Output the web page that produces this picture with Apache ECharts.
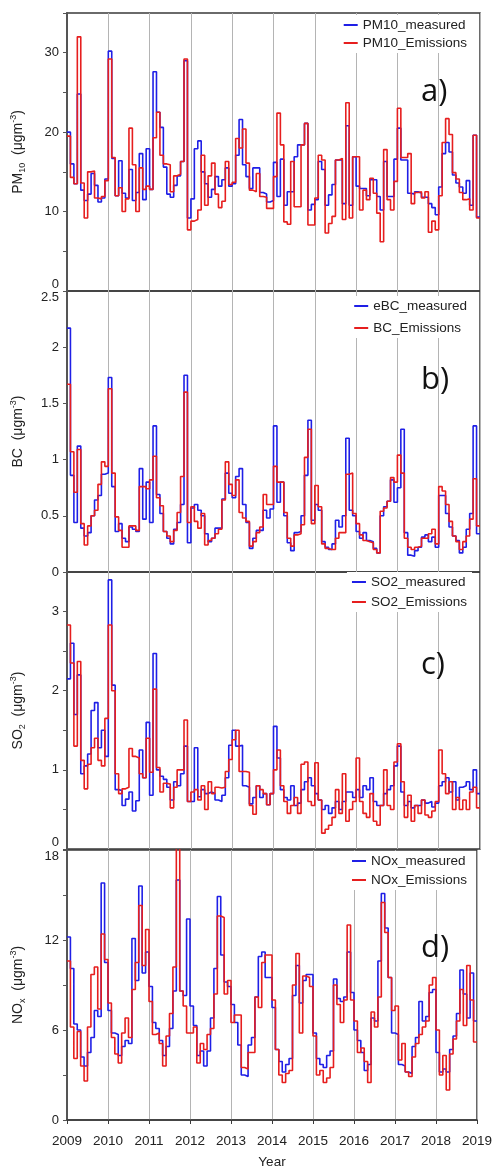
<!DOCTYPE html>
<html><head><meta charset="utf-8">
<script src="https://cdn.jsdelivr.net/npm/echarts@6/dist/echarts.min.js"></script>
<style>html,body{margin:0;padding:0;background:#fff}#c{width:495px;height:1170px}</style>
</head><body><div id="c"></div>
<script>
const startYear = 2009;
const endYear = 2019;
const panelLetters = ['a)', 'b)', 'c)', 'd)'];

const pm10Measured = [20.0,16.0,13.5,24.8,12.7,11.4,12.2,14.8,13.3,11.2,11.7,14.1,
30.2,16.7,12.0,16.4,12.3,11.7,15.3,11.4,12.4,17.3,11.5,17.9,
12.8,27.6,22.5,20.6,15.6,12.2,11.8,13.3,14.5,16.3,29.0,9.2,
11.6,17.9,18.9,15.0,13.5,11.8,12.8,14.4,13.2,14.0,15.5,13.2,
13.5,17.1,21.6,15.9,14.4,12.9,15.5,15.5,12.4,12.2,11.2,11.4,
16.2,11.9,16.6,10.8,12.5,12.5,16.9,18.4,18.4,21.1,10.2,10.9,
11.5,16.3,15.3,10.8,12.1,13.4,16.5,16.5,11.0,20.8,10.8,16.9,
13.2,12.9,12.9,12.0,14.0,14.0,11.9,10.2,16.3,11.9,11.9,16.6,
20.5,16.5,16.5,12.3,12.2,12.5,12.3,11.8,11.8,11.0,10.5,9.6,
13.1,17.3,18.7,17.5,14.6,13.6,13.1,12.3,13.9,10.8,19.6,9.3];
const pm10Emissions = [19.5,14.3,13.5,32.0,13.6,9.2,15.0,15.1,11.7,11.6,11.9,13.9,
29.2,16.8,12.0,13.0,10.0,11.6,20.5,15.9,10.0,15.5,12.8,13.2,
12.8,19.3,22.5,17.1,16.0,15.9,12.5,14.5,14.7,16.3,29.2,7.7,
8.8,9.0,10.2,17.1,10.8,14.5,16.1,12.2,10.5,11.3,16.3,13.4,
13.7,19.2,18.0,20.4,16.1,12.7,12.5,14.8,11.9,11.8,10.4,10.4,
14.4,22.4,18.4,8.7,8.4,16.3,10.6,10.6,18.4,21.1,8.3,8.3,
11.7,17.1,16.5,7.3,8.5,9.4,16.5,16.7,9.0,23.7,9.2,16.9,
16.9,10.2,12.7,11.5,14.2,12.3,9.8,6.2,17.8,11.5,10.2,13.8,
23.0,16.8,16.8,17.3,11.0,12.4,12.5,11.7,12.5,7.4,8.8,7.7,
12.0,18.7,21.7,19.7,14.9,14.1,12.4,11.5,11.6,10.2,19.6,9.2];

const ebcMeasured = [2.17,0.86,0.44,1.12,0.39,0.32,0.35,0.50,0.64,0.68,0.87,0.88,
1.73,0.76,0.36,0.43,0.30,0.27,0.40,0.38,0.36,0.92,0.47,0.80,
0.44,1.30,0.69,0.52,0.36,0.30,0.25,0.38,0.44,0.60,1.75,0.26,
0.57,0.60,0.55,0.50,0.34,0.27,0.30,0.39,0.39,0.65,0.88,0.70,
0.66,0.85,0.92,0.60,0.44,0.21,0.30,0.37,0.37,0.55,0.48,0.56,
1.30,0.62,0.80,0.50,0.26,0.19,0.35,0.36,0.50,0.86,1.35,0.46,
0.60,0.55,0.27,0.22,0.20,0.25,0.46,0.40,0.50,1.19,0.55,0.50,
0.36,0.30,0.35,0.28,0.27,0.21,0.17,0.50,0.58,0.63,0.82,0.62,
0.75,1.27,0.35,0.15,0.14,0.19,0.22,0.31,0.33,0.27,0.31,0.22,
0.68,0.68,0.52,0.40,0.32,0.28,0.17,0.22,0.38,0.52,1.30,0.34];
const bcEmissions = [1.67,1.07,0.71,1.09,0.43,0.24,0.41,0.50,0.55,0.78,0.98,0.94,
1.63,0.88,0.49,0.37,0.22,0.22,0.41,0.41,0.37,0.76,0.76,0.74,
0.82,1.03,0.66,0.59,0.36,0.32,0.27,0.37,0.53,0.85,1.60,0.44,
0.58,0.45,0.39,0.52,0.24,0.28,0.30,0.34,0.38,0.64,0.98,0.78,
0.68,0.82,0.53,0.48,0.45,0.23,0.27,0.35,0.40,0.69,0.60,0.60,
0.94,0.80,0.80,0.53,0.30,0.23,0.33,0.34,0.42,1.02,1.27,0.43,
0.77,0.58,0.25,0.21,0.20,0.20,0.30,0.35,0.35,0.87,0.88,0.52,
0.43,0.33,0.28,0.27,0.26,0.20,0.17,0.54,0.57,0.63,0.84,0.80,
1.04,0.88,0.30,0.22,0.20,0.22,0.23,0.30,0.30,0.34,0.38,0.25,
0.76,0.72,0.60,0.45,0.32,0.27,0.20,0.27,0.32,0.47,0.83,0.41];

const so2Measured = [2.15,2.60,1.70,2.20,0.95,1.05,1.20,1.75,1.85,1.28,1.50,1.17,
3.40,2.07,0.75,0.74,0.55,0.63,0.72,0.48,0.61,1.25,0.90,1.60,
0.68,2.47,1.00,0.92,0.88,0.78,0.62,0.85,0.80,0.95,1.30,0.60,
0.60,1.28,0.66,0.75,0.70,0.72,0.70,0.62,0.60,0.68,0.90,1.31,
1.50,1.30,1.31,0.80,0.78,0.57,0.65,0.80,0.65,0.70,0.56,0.70,
1.55,1.15,0.75,0.65,0.62,0.80,0.55,0.58,0.75,0.85,0.90,0.80,
0.70,0.62,0.50,0.55,0.45,0.52,0.60,0.50,0.60,0.72,0.72,0.65,
0.75,0.65,0.80,0.75,0.90,0.60,0.55,0.55,0.70,0.75,0.80,1.05,
1.30,0.72,0.55,0.60,0.52,0.55,0.55,0.62,0.58,0.60,0.53,0.58,
0.80,0.85,0.90,0.72,0.85,0.62,0.78,0.80,0.85,0.75,1.00,0.70];
const so2Emissions = [2.83,2.35,1.30,2.37,1.12,0.76,1.07,1.28,1.40,1.12,1.05,1.65,
2.83,2.00,0.95,0.70,0.76,0.78,1.27,1.17,1.15,0.95,0.90,1.40,
0.97,2.02,1.03,0.72,0.83,0.82,0.52,0.78,1.00,1.00,1.63,0.60,
0.72,0.75,0.62,0.80,0.50,0.85,0.70,0.78,0.77,0.78,0.98,1.13,
1.38,1.50,0.98,0.98,0.97,0.55,0.44,0.80,0.75,0.70,0.56,0.70,
1.00,1.25,0.80,0.60,0.45,0.55,0.65,0.45,1.07,1.10,0.60,0.55,
1.09,0.62,0.20,0.25,0.30,0.40,0.75,0.45,0.95,0.35,0.50,0.60,
1.15,0.60,0.45,0.40,0.70,0.35,0.30,0.55,1.00,0.55,0.50,1.10,
1.33,0.85,0.40,0.68,0.35,0.55,0.45,0.62,0.43,0.40,0.48,0.60,
1.25,0.95,0.70,0.85,0.50,0.65,0.50,0.62,0.50,0.72,0.78,0.52];

const noxMeasured = [12.2,10.1,6.4,6.0,4.2,3.6,4.5,5.5,7.3,6.9,15.8,10.5,
7.3,5.8,5.7,4.3,4.9,5.3,5.1,12.1,9.3,15.6,9.8,11.2,
8.9,6.5,6.1,5.3,4.3,4.9,6.1,8.6,16.0,8.6,8.3,13.4,
7.6,6.3,4.3,4.6,3.6,4.6,6.8,10.1,14.9,11.0,9.2,8.9,
7.7,6.5,5.0,3.0,2.9,5.0,5.5,8.2,10.9,11.2,9.5,9.5,
7.5,4.7,3.9,3.2,3.7,4.1,8.3,10.3,7.8,9.3,9.7,9.7,
5.8,4.1,3.7,3.5,4.3,4.6,9.4,8.1,7.9,8.2,11.2,8.5,
6.0,5.3,4.5,3.3,3.7,6.8,6.6,10.6,15.1,12.8,9.5,5.8,
5.7,3.7,3.6,3.2,3.1,4.9,5.5,7.9,6.6,6.9,8.5,8.7,
4.5,3.2,3.4,3.2,4.7,5.6,7.1,10.0,8.4,6.8,9.8,6.6];
const noxEmissions = [10.6,6.2,4.1,5.9,3.6,2.6,6.2,9.7,10.2,7.4,12.4,10.7,
7.8,5.5,4.4,3.8,5.8,6.8,5.5,8.7,10.5,14.3,10.3,12.7,
7.9,5.7,5.8,5.1,3.6,5.6,7.1,10.2,18.3,8.6,7.6,5.8,
5.8,6.2,3.8,5.1,4.7,5.7,6.1,8.4,13.6,13.5,8.4,9.3,
6.5,7.0,7.0,3.5,3.4,4.5,4.5,8.2,7.5,10.5,11.0,11.0,
8.0,4.7,3.0,2.5,3.1,3.3,9.0,11.1,5.8,9.6,9.5,8.9,
5.6,3.0,3.3,2.5,2.8,3.5,9.0,7.7,6.5,8.0,13.0,8.0,
6.6,4.5,4.8,3.9,2.5,7.2,6.2,8.2,14.5,12.5,9.5,7.3,
7.6,4.0,5.1,3.2,2.9,4.2,5.1,5.7,6.2,6.6,9.0,9.5,
6.0,3.0,4.3,2.0,4.4,5.4,6.6,8.7,6.3,10.3,8.0,5.2];

const panels = [
  {meas: pm10Measured, emis: pm10Emissions, measName: 'PM10_measured', emisName: 'PM10_Emissions',
   yMax: 35, yStep: 5, labelEvery: 10, title: '{n|PM}{sub|10}{n|  (μgm}{sup|-3}{n|)}'},
  {meas: ebcMeasured, emis: bcEmissions, measName: 'eBC_measured', emisName: 'BC_Emissions',
   yMax: 2.5, yStep: 0.5, labelEvery: 0.5, title: '{n|BC  (μgm}{sup|-3}{n|)}'},
  {meas: so2Measured, emis: so2Emissions, measName: 'SO2_measured', emisName: 'SO2_Emissions',
   yMax: 3.5, yStep: 0.5, labelEvery: 1, title: '{n|SO}{sub|2}{n|  (μgm}{sup|-3}{n|)}'},
  {meas: noxMeasured, emis: noxEmissions, measName: 'NOx_measured', emisName: 'NOx_Emissions',
   yMax: 18, yStep: 3, labelEvery: 6, title: '{n|NO}{sub|x}{n|  (μgm}{sup|-3}{n|)}'}
];

const layout = [
  {top: 13, height: 278, legendTop: 15, legendGap: 4, letterY: 92},
  {top: 291, height: 281, legendTop: 296, legendGap: 8, letterY: 380},
  {top: 572, height: 277, legendTop: 572, legendGap: 6, letterY: 665},
  {top: 850, height: 276, legendTop: 851, legendGap: 5, letterY: 948}
];

function toSteps(arr) {
  const d = arr.map((v, i) => [startYear + i / 12, v]);
  d.push([endYear, arr[arr.length - 1]]);
  return d;
}

const FONT = '"Liberation Sans", Arial, sans-serif';
const BLUE = '#1f1fe6';
const RED = '#e61e1e';

const grid = [], xAxis = [], yAxis = [], series = [], legend = [], graphic = [];
panels.forEach((p, k) => {
  const L = layout[k];
  const last = k === panels.length - 1;
  grid.push({left: 67, right: 15, top: L.top, height: L.height, show: true,
    borderColor: '#3a3a3a', borderWidth: 1.5, backgroundColor: 'transparent'});
  xAxis.push({type: 'value', gridIndex: k, min: startYear, max: endYear, interval: 1,
    axisLine: {show: last, lineStyle: {color: '#3a3a3a', width: 1.5}},
    axisTick: {show: last, length: 4, lineStyle: {color: '#3a3a3a'}},
    axisLabel: {show: last, color: '#222', fontSize: 13.5, fontFamily: FONT, margin: 14,
      formatter: v => String(v)},
    splitLine: {show: true, lineStyle: {color: '#b4b4b4', width: 1}},
    name: last ? 'Year' : '', nameLocation: 'middle', nameGap: 35,
    nameTextStyle: {color: '#222', fontSize: 13.5, fontFamily: FONT}});
  const step = p.labelEvery;
  yAxis.push({type: 'value', gridIndex: k, min: 0, max: p.yMax, interval: p.yStep,
    axisLine: {show: true, lineStyle: {color: '#555', width: 2}},
    axisTick: {show: true, length: 4, lineStyle: {color: '#555'}},
    axisLabel: {color: '#222', fontSize: 13, fontFamily: FONT, margin: 8,
      verticalAlignMaxLabel: (k === 1 || k === 3) ? 'top' : undefined,
      verticalAlignMinLabel: (k === 0 || k === 2) ? 'bottom' : undefined,
      formatter: v => {
        const r = v / step;
        return Math.abs(r - Math.round(r)) < 1e-6 ? String(+v.toFixed(2)) : '';
      }},
    splitLine: {show: false},
    name: p.title, nameLocation: 'middle', nameRotate: 90, nameGap: 40,
    nameTextStyle: {color: '#222', fontFamily: FONT,
      rich: {
        n: {fontSize: 14, fontFamily: FONT, color: '#222', lineHeight: 18},
        sub: {fontSize: 9, fontFamily: FONT, color: '#222', lineHeight: 9, verticalAlign: 'bottom'},
        sup: {fontSize: 9, fontFamily: FONT, color: '#222', lineHeight: 9, verticalAlign: 'top'}
      }}});
  series.push({type: 'line', name: p.measName, xAxisIndex: k, yAxisIndex: k, step: 'end',
    showSymbol: false, data: toSteps(p.meas), lineStyle: {color: BLUE, width: 1.6},
    itemStyle: {color: BLUE}, z: 2});
  series.push({type: 'line', name: p.emisName, xAxisIndex: k, yAxisIndex: k, step: 'end',
    showSymbol: false, data: toSteps(p.emis), lineStyle: {color: RED, width: 1.6},
    itemStyle: {color: RED}, z: 3});
  legend.push({data: [p.measName, p.emisName], orient: 'vertical', right: 23, top: L.legendTop,
    itemGap: L.legendGap, itemWidth: 14, itemHeight: 2, icon: 'rect',
    padding: [3, 5, 3, 5], backgroundColor: '#fff', selectedMode: false,
    textStyle: {color: '#222', fontSize: 13.5, fontFamily: FONT, lineHeight: 14}});
  graphic.push({type: 'text', x: 421, y: L.letterY, z: 10,
    style: {text: panelLetters[k], font: '31px "Open Sans", sans-serif', fill: '#111',
      verticalAlign: 'middle', align: 'left'}});
});

const chart = echarts.init(document.getElementById('c'), null, {renderer: 'canvas'});
chart.setOption({animation: false, backgroundColor: '#fff', grid, xAxis, yAxis, series, legend, graphic});
</script>
</body></html>
